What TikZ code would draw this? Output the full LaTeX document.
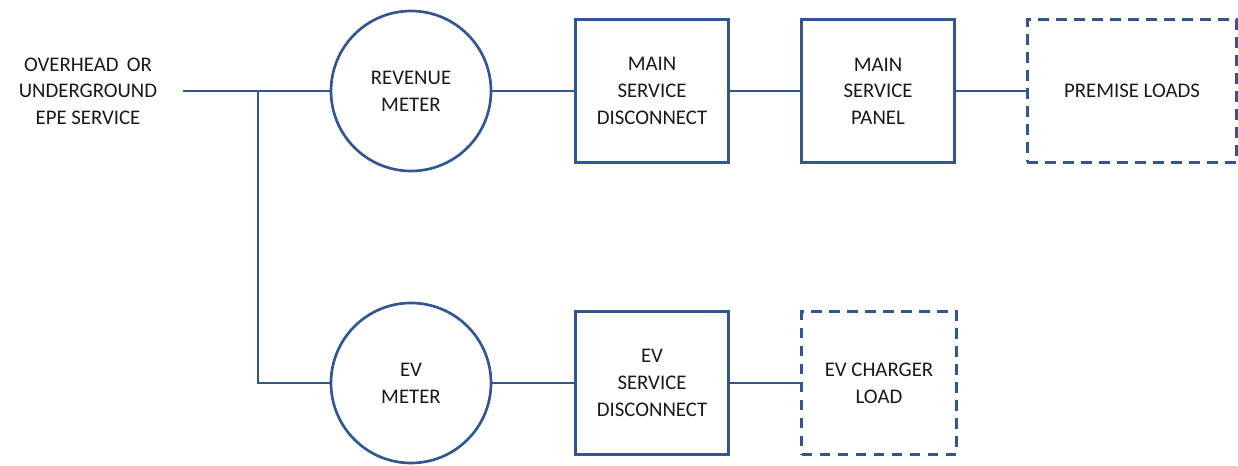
\documentclass[tikz,border=0pt]{standalone}
\usepackage{fontspec}
\setmainfont{Carlito}
\definecolor{lineblue}{RGB}{50,86,146}
\definecolor{textgray}{RGB}{25,25,25}
\tikzset{
	meter/.style={circle, draw=lineblue, line width=2pt, minimum size=120pt, inner sep=0pt, align=center},
	unitbox/.style={rectangle, draw=lineblue, line width=2pt, minimum width=115pt, minimum height=107pt, align=center},
	loadbox/.style={unitbox, dash pattern=on 8pt off 5.5pt},
	wire/.style={draw=lineblue, line width=2pt}
}
\begin{document}
\begin{tikzpicture}[x=0.75pt, y=-0.75pt, text=textgray, font=\fontsize{15.6}{20}\selectfont]
		\useasboundingbox (0,0) rectangle (1238,466);
		%source
		\node[align=center] (source) at (88,91) {OVERHEAD\ \,OR\\UNDERGROUND\\EPE SERVICE};
		\coordinate (feed) at (183,91);
		\coordinate (tap) at (258,91);
		
		%main service row
		\node[meter] (revmeter) at (411,91) {REVENUE\\METER};
		\node[unitbox] (maindisc) at (652,91) {MAIN\\SERVICE\\DISCONNECT};
		\node[unitbox] (mainpanel) at (878,91) {MAIN\\SERVICE\\PANEL};
		\node[loadbox, minimum width=157pt] (premise) at (1132,91) {PREMISE LOADS};
		
		%ev row
		\node[meter] (evmeter) at (411,383) {EV\\METER};
		\node[unitbox] (evdisc) at (652,383) {EV\\SERVICE\\DISCONNECT};
		\node[loadbox, minimum width=116pt] (evload) at (879,383) {EV CHARGER\\LOAD};
		
		%wires
		\draw[wire] (feed) -- (revmeter.west);
		\draw[wire] (tap) |- (evmeter.west);
		\draw[wire] (revmeter.east) -- (maindisc.west);
		\draw[wire] (maindisc.east) -- (mainpanel.west);
		\draw[wire] (mainpanel.east) -- (premise.west);
		\draw[wire] (evmeter.east) -- (evdisc.west);
		\draw[wire] (evdisc.east) -- (evload.west);
\end{tikzpicture}
\end{document}
